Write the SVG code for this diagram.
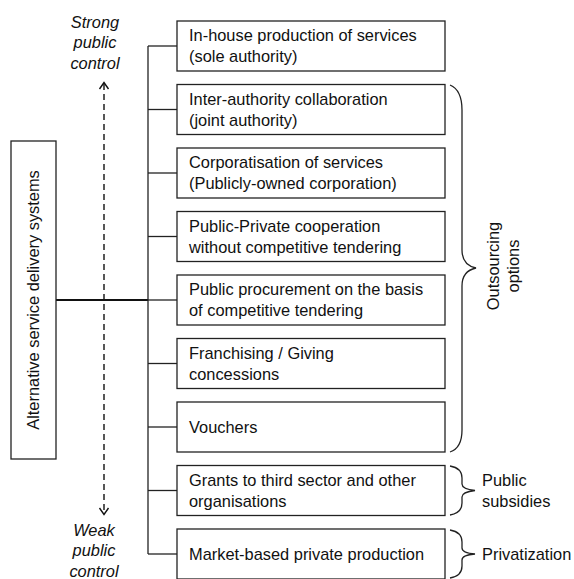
<svg xmlns="http://www.w3.org/2000/svg" width="574" height="579" viewBox="0 0 574 579">
<defs>
<style>
text{font-family:"Liberation Sans",Arial,sans-serif;font-size:16.4px;fill:#111}
.box{fill:#fff;stroke:#222;stroke-width:1.3}
.ln{fill:none;stroke:#222;stroke-width:1.3}
.ah{fill:none;stroke:#111;stroke-width:1.4}
.it{font-style:italic}
</style>
</defs>
<rect width="574" height="579" fill="#fff"/>
<g id="connectors">
<line x1="56" y1="300" x2="148" y2="300" stroke="#111" stroke-width="2"/>
<line class="ln" x1="148" y1="46" x2="148" y2="554"/>
<line class="ln" x1="148" y1="46" x2="177" y2="46"/>
<line class="ln" x1="148" y1="109.5" x2="177" y2="109.5"/>
<line class="ln" x1="148" y1="173" x2="177" y2="173"/>
<line class="ln" x1="148" y1="236.5" x2="177" y2="236.5"/>
<line class="ln" x1="148" y1="300" x2="177" y2="300"/>
<line class="ln" x1="148" y1="363.5" x2="177" y2="363.5"/>
<line class="ln" x1="148" y1="427" x2="177" y2="427"/>
<line class="ln" x1="148" y1="490.5" x2="177" y2="490.5"/>
<line class="ln" x1="148" y1="554" x2="177" y2="554"/>
<line x1="104" y1="84" x2="104" y2="513" stroke="#111" stroke-width="1.4" stroke-dasharray="6,4"/>
<path class="ah" d="M99.5,89 L104,82.5 L108.5,89"/>
<path class="ah" d="M99.5,508 L104,514.5 L108.5,508"/>
</g>
<g id="root">
<rect class="box" x="11" y="141" width="45" height="318"/>
<text transform="translate(39,300) rotate(-90)" text-anchor="middle">Alternative service delivery systems</text>
</g>
<g id="strong">
<text class="it" x="95" y="28" text-anchor="middle">Strong</text>
<text class="it" x="95" y="48" text-anchor="middle">public</text>
<text class="it" x="95" y="69" text-anchor="middle">control</text>
</g>
<g id="weak">
<text class="it" x="94" y="536" text-anchor="middle">Weak</text>
<text class="it" x="94" y="556" text-anchor="middle">public</text>
<text class="it" x="94" y="577" text-anchor="middle">control</text>
</g>
<g id="n1"><rect class="box" x="177" y="21" width="268" height="50"/><text x="189" y="41">In-house production of services</text><text x="189" y="62">(sole authority)</text></g>
<g id="n2"><rect class="box" x="177" y="84.5" width="268" height="50"/><text x="189" y="104.5">Inter-authority collaboration</text><text x="189" y="125.5">(joint authority)</text></g>
<g id="n3"><rect class="box" x="177" y="148" width="268" height="50"/><text x="189" y="168">Corporatisation of services</text><text x="189" y="189">(Publicly-owned corporation)</text></g>
<g id="n4"><rect class="box" x="177" y="211.5" width="268" height="50"/><text x="189" y="231.5">Public-Private cooperation</text><text x="189" y="252.5">without competitive tendering</text></g>
<g id="n5"><rect class="box" x="177" y="275" width="268" height="50"/><text x="189" y="295">Public procurement on the basis</text><text x="189" y="316">of competitive tendering</text></g>
<g id="n6"><rect class="box" x="177" y="338.5" width="268" height="50"/><text x="189" y="358.5">Franchising / Giving</text><text x="189" y="379.5">concessions</text></g>
<g id="n7"><rect class="box" x="177" y="402" width="268" height="50"/><text x="189" y="432.5">Vouchers</text></g>
<g id="n8"><rect class="box" x="177" y="465.5" width="268" height="50"/><text x="189" y="485.5">Grants to third sector and other</text><text x="189" y="506.5">organisations</text></g>
<g id="n9"><rect class="box" x="177" y="529" width="268" height="50"/><text x="189" y="560">Market-based private production</text></g>
<g id="brace-outsourcing">
<path class="ln" d="M450,85 Q462,90 462,110 L462,250 Q462,265 476,268 Q462,271 462,286 L462,430 Q462,448 450,452"/>
<text transform="translate(499,266) rotate(-90)" text-anchor="middle">Outsourcing</text>
<text transform="translate(519,266) rotate(-90)" text-anchor="middle">options</text>
</g>
<g id="brace-subsidies">
<path class="ln" d="M450,466 Q462,468 462,478 L462,484 Q462,489 475,490.5 Q462,492 462,497 L462,503 Q462,513 450,515"/>
<text x="482" y="486">Public</text>
<text x="482" y="507">subsidies</text>
</g>
<g id="brace-privatization">
<path class="ln" d="M450,530 Q462,532 462,542 L462,548 Q462,553 475,554 Q462,555 462,560 L462,566 Q462,576 450,578"/>
<text x="482" y="560">Privatization</text>
</g>
</svg>
